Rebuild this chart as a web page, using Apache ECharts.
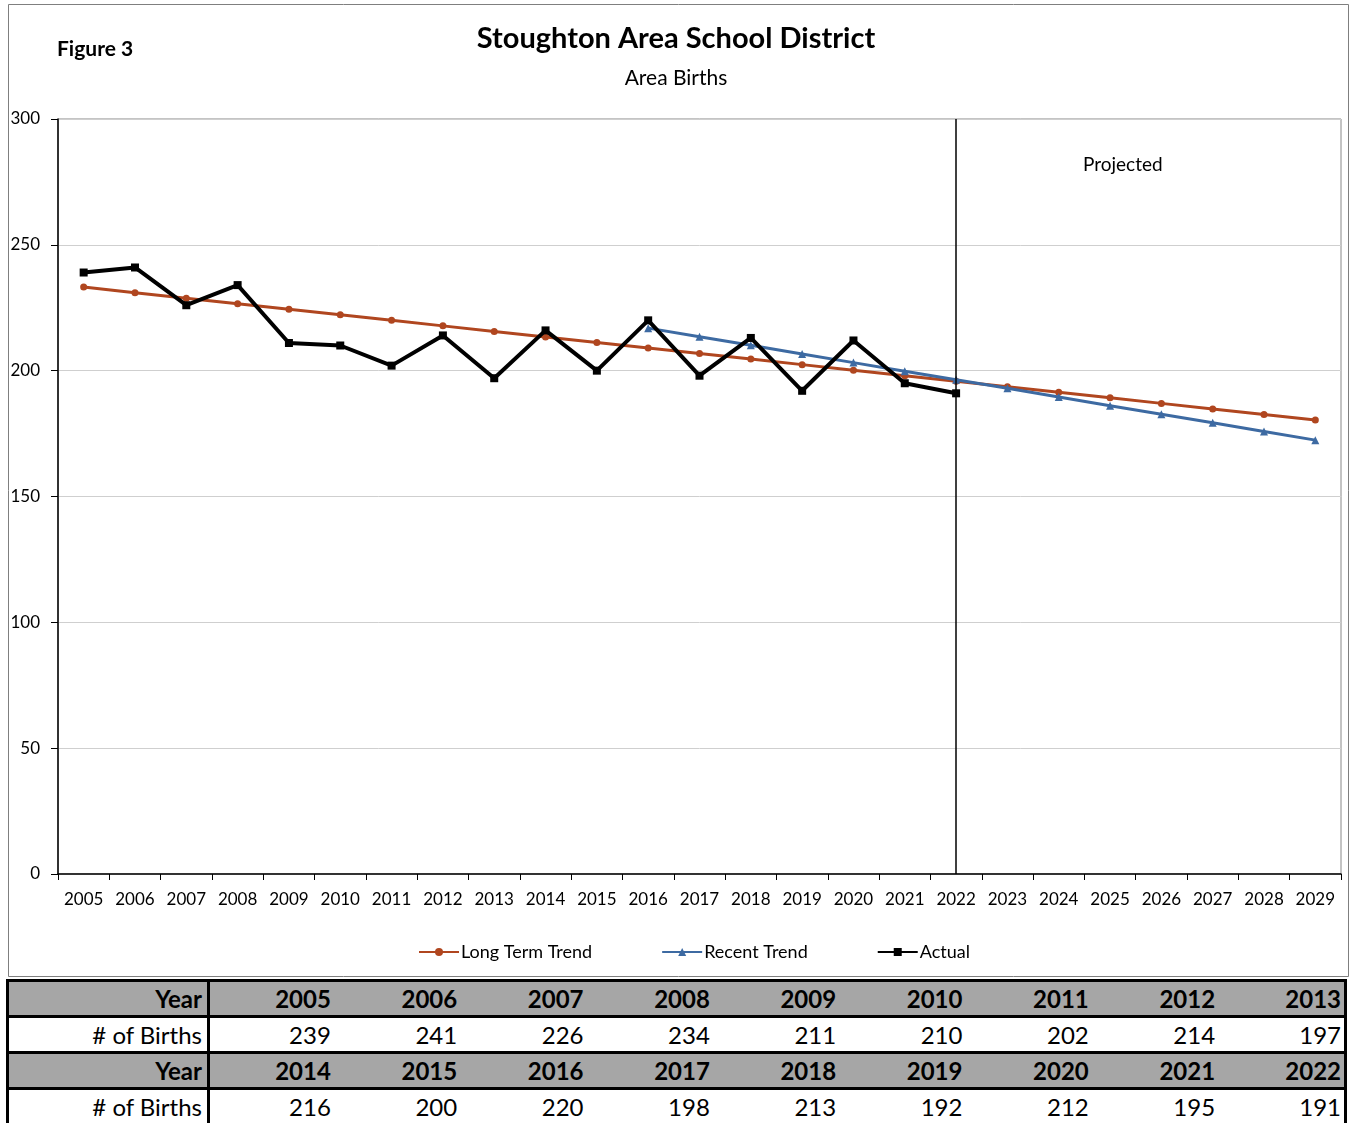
<!DOCTYPE html>
<html>
<head>
<meta charset="utf-8">
<script src="https://cdn.jsdelivr.net/npm/echarts@6/dist/echarts.min.js"></script>
<style>
  html, body { margin:0; padding:0; background:#fff; }
  body { width:1352px; height:1123px; overflow:hidden; position:relative; font-family: Lato, "Open Sans", sans-serif; }
  #chart { position:absolute; left:0; top:0; width:1352px; height:978px; }
  #tbl { position:absolute; left:6px; top:979px; width:1341px; border-collapse:collapse; table-layout:fixed; font-size:24px; color:#000; }
  #tbl td { height:33px; line-height:33px; padding:0 4px 0 0; text-align:right; border-top:3px solid #000; border-bottom:3px solid #000; white-space:nowrap; overflow:hidden; }
  #tbl tr.h td { background:#A6A6A6; font-weight:bold; }
  #tbl td.first { border-left:3px solid #000; border-right:3px solid #000; padding-right:5px; }
  #tbl td.last { border-right:3px solid #000; padding-right:3px; }
</style>
</head>
<body>
<div id="chart"></div>
<table id="tbl"></table>
<script>
// ---- data ----
const years = ['2005','2006','2007','2008','2009','2010','2011','2012','2013','2014','2015','2016','2017','2018','2019','2020','2021','2022','2023','2024','2025','2026','2027','2028','2029'];
const actualBirths = [239,241,226,234,211,210,202,214,197,216,200,220,198,213,192,212,195,191];
const longTermTrend = [233.2,231.0,228.8,226.6,224.4,222.2,220.0,217.8,215.6,213.4,211.2,209.0,206.8,204.6,202.4,200.2,198.0,195.8,193.6,191.4,189.2,187.0,184.8,182.6,180.4];
const recentTrend = [null,null,null,null,null,null,null,null,null,null,null,216.9,213.5,210.1,206.6,203.2,199.8,196.4,193.0,189.5,186.1,182.7,179.3,175.8,172.4];
const yTicks = { min:0, max:300, interval:50 };
const tableRowLabels = ['Year', '# of Births'];
const titleText = 'Stoughton Area School District';
const subtitleText = 'Area Births';
const figureLabel = 'Figure 3';
const projectedLabel = 'Projected';
const projectionStartYear = '2022';

const FONT = 'Lato, "Open Sans", sans-serif';

const chart = echarts.init(document.getElementById('chart'), null, { renderer: 'canvas' });
chart.setOption({
  animation: false,
  backgroundColor: '#fff',
  title: {
    text: titleText,
    subtext: subtitleText,
    left: 'center',
    top: 19,
    itemGap: 15,
    textStyle: { fontFamily: FONT, fontWeight: 'bold', fontSize: 29, color: '#000' },
    subtextStyle: { fontFamily: FONT, fontSize: 21, color: '#000' }
  },
  graphic: [
    { type: 'rect', shape: { x: 8.5, y: 4.5, width: 1340, height: 972 }, style: { fill: 'none', stroke: '#7f7f7f', lineWidth: 1 }, z: -1 },
    { type: 'text', left: 57, top: 39, style: { text: figureLabel, font: 'bold 21px ' + FONT, fill: '#000' } },
    { type: 'text', left: 1083, top: 155, style: { text: projectedLabel, font: '19px ' + FONT, fill: '#000' } }
  ],
  legend: {
    left: 418,
    top: 943,
    padding: 0,
    itemGap: 69,
    itemWidth: 40,
    itemHeight: 10,
    textStyle: { fontFamily: FONT, fontSize: 18, color: '#000', padding: [0,0,0,-3] },
    data: ['Long Term Trend', 'Recent Trend', 'Actual']
  },
  grid: {
    left: 58, right: 11, top: 119, bottom: 104,
    show: true, borderColor: '#888', borderWidth: 1
  },
  xAxis: {
    type: 'category',
    data: years,
    boundaryGap: true,
    axisLine: { lineStyle: { color: '#000', width: 1.5 } },
    axisTick: { show: true, length: 6, lineStyle: { color: '#000' }, alignWithLabel: false },
    axisLabel: { fontFamily: FONT, fontSize: 17, color: '#000', margin: 17, interval: 0 },
    splitLine: { show: false }
  },
  yAxis: {
    type: 'value',
    min: yTicks.min, max: yTicks.max, interval: yTicks.interval,
    axisLine: { show: true, lineStyle: { color: '#000', width: 1.5 } },
    axisTick: { show: true, length: 7, lineStyle: { color: '#000' } },
    axisLabel: { fontFamily: FONT, fontSize: 17, color: '#000', margin: 18 },
    splitLine: { show: true, lineStyle: { color: '#cfcfcf', width: 1 } }
  },
  series: [
    {
      name: 'Long Term Trend', type: 'line', data: longTermTrend,
      symbol: 'circle', symbolSize: 7,
      lineStyle: { color: '#B0461F', width: 3 },
      itemStyle: { color: '#B0461F' },
      z: 2
    },
    {
      name: 'Recent Trend', type: 'line', data: recentTrend,
      symbol: 'triangle', symbolSize: 8,
      lineStyle: { color: '#3D6AA2', width: 3 },
      itemStyle: { color: '#3D6AA2' },
      z: 3
    },
    {
      name: 'Actual', type: 'line', data: actualBirths,
      symbol: 'rect', symbolSize: 8,
      lineStyle: { color: '#000', width: 4 },
      itemStyle: { color: '#000' },
      z: 4,
      markLine: {
        silent: true, symbol: 'none',
        label: { show: false },
        lineStyle: { color: '#000', width: 1.5, type: 'solid' },
        data: [{ xAxis: projectionStartYear }]
      }
    }
  ]
});

// ---- data table built from arrays ----
const tbl = document.getElementById('tbl');
const colgroup = document.createElement('colgroup');
const c0 = document.createElement('col'); c0.style.width = '201px'; colgroup.appendChild(c0);
for (let i = 0; i < 9; i++) { const c = document.createElement('col'); colgroup.appendChild(c); }
tbl.appendChild(colgroup);
const actualYears = years.slice(0, actualBirths.length);
for (let block = 0; block < 2; block++) {
  const ys = actualYears.slice(block * 9, block * 9 + 9);
  const vs = actualBirths.slice(block * 9, block * 9 + 9);
  [[tableRowLabels[0], ys, 'h'], [tableRowLabels[1], vs, '']].forEach(([label, vals, cls]) => {
    const tr = document.createElement('tr');
    if (cls) tr.className = cls;
    const td0 = document.createElement('td'); td0.className = 'first'; td0.textContent = label; tr.appendChild(td0);
    vals.forEach((v, i) => {
      const td = document.createElement('td');
      if (i === vals.length - 1) td.className = 'last';
      td.textContent = v;
      tr.appendChild(td);
    });
    tbl.appendChild(tr);
  });
}
</script>
</body>
</html>
